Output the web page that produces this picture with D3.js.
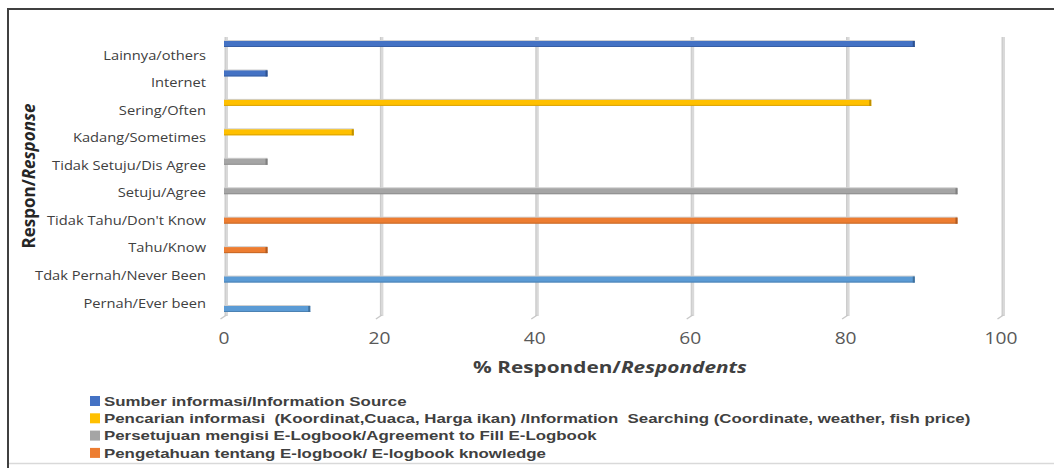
<!DOCTYPE html>
<html>
<head>
<meta charset="utf-8">
<script src="https://cdn.jsdelivr.net/npm/d3@7"></script>
<style>
  body { margin: 0; background: #fff; }
  svg { display: block; font-family: "Open Sans", sans-serif; }
</style>
</head>
<body>
<svg id="chart" width="1054" height="468"></svg>
<script>
// categories from top to bottom
const categories = [
  "Lainnya/others", "Internet", "Sering/Often", "Kadang/Sometimes",
  "Tidak Setuju/Dis Agree", "Setuju/Agree", "Tidak Tahu/Don't Know",
  "Tahu/Know", "Tdak Pernah/Never Been", "Pernah/Ever been"
];
const values = [88.9, 5.6, 83.3, 16.7, 5.6, 94.4, 94.4, 5.6, 88.9, 11.1];
const groups = ["src", "src", "search", "search", "agree", "agree", "know", "know", "ever", "ever"];
const ticks = [0, 20, 40, 60, 80, 100];

const legendLabels = [
  "Sumber informasi/Information Source",
  "Pencarian informasi  (Koordinat,Cuaca, Harga ikan) /Information  Searching (Coordinate, weather, fish price)",
  "Persetujuan mengisi E-Logbook/Agreement to Fill E-Logbook",
  "Pengetahuan tentang E-logbook/ E-logbook knowledge"
];
const legendGroups = ["src", "search", "agree", "know"];

const fill = { src: "#4472c4", search: "#ffc000", agree: "#a5a5a5", know: "#ed7d31", ever: "#5b9bd5" };
const edge = { src: "#2f528f", search: "#bf9000", agree: "#7f7f7f", know: "#ae5a21", ever: "#41719c" };

const svg = d3.select("#chart");

// the source picture is stretched sideways, so texts get a horizontal scale
function stretch(sel, target) {
  const w = sel.node().getComputedTextLength();
  return target / w;
}

// frame
svg.append("line").attr("x1", 7).attr("x2", 1054).attr("y1", 9).attr("y2", 9)
  .attr("stroke", "#404040").attr("stroke-width", 2);
svg.append("line").attr("x1", 8).attr("x2", 8).attr("y1", 8).attr("y2", 468)
  .attr("stroke", "#404040").attr("stroke-width", 2);
svg.append("line").attr("x1", 9).attr("x2", 1054).attr("y1", 463.5).attr("y2", 463.5)
  .attr("stroke", "#d9d9d9").attr("stroke-width", 1.5);

const x = d3.scaleLinear().domain([0, 100]).range([224, 1001]);
const yBar = d3.scalePoint().domain(categories).range([44, 309]);
const yLab = d3.scalePoint().domain(categories).range([55, 303]);

// 3D-ish gridlines
const grid = svg.append("g");
ticks.forEach(t => {
  const gx = x(t) + 2.5;
  grid.append("rect").attr("x", gx - 1.5).attr("y", 37).attr("width", 3).attr("height", 279)
    .attr("fill", "#d9d9d9");
  grid.append("line").attr("x1", gx - 1.5).attr("x2", gx - 1.5).attr("y1", 37).attr("y2", 316)
    .attr("stroke", "#bfbfbf").attr("stroke-width", 0.8);
  grid.append("line").attr("x1", gx).attr("x2", gx - 6).attr("y1", 315).attr("y2", 319)
    .attr("stroke", "#c8c8c8").attr("stroke-width", 1.5);
});

// bars
const bars = svg.append("g");
categories.forEach((c, i) => {
  const g = groups[i];
  const by = yBar(c) - 3;
  const w = x(values[i]) - x(0);
  bars.append("rect").attr("x", x(0)).attr("y", by - 1).attr("width", w).attr("height", 1.5)
    .attr("fill", "#d0d0d0");
  bars.append("rect").attr("x", x(0)).attr("y", by).attr("width", w).attr("height", 6)
    .attr("fill", fill[g]);
  bars.append("rect").attr("x", x(0)).attr("y", by + 5).attr("width", w).attr("height", 1)
    .attr("fill", edge[g]).attr("opacity", 0.6);
  bars.append("rect").attr("x", x(values[i]) - 2).attr("y", by).attr("width", 2).attr("height", 6)
    .attr("fill", edge[g]);
});

// category labels
const catG = svg.append("g");
const catTexts = catG.selectAll("text").data(categories).join("text")
  .attr("x", 0).attr("y", d => yLab(d)).attr("dy", "0.35em")
  .attr("text-anchor", "end").attr("font-size", 13).attr("fill", "#404040")
  .text(d => d);
const catK = stretch(catTexts.filter(d => d === "Tidak Tahu/Don't Know"), 159);
catG.attr("transform", `translate(206,0) scale(${catK},1)`);

// x ticks
svg.append("g").selectAll("text").data(ticks).join("text")
  .attr("transform", d => `translate(${x(d)},338) scale(1.2,1)`).attr("dy", "0.35em")
  .attr("text-anchor", "middle").attr("font-size", 16).attr("fill", "#595959")
  .text(d => d);

// axis titles
const xt = svg.append("text").attr("x", 0).attr("y", 0).attr("dy", "0.35em")
  .attr("text-anchor", "middle").attr("font-size", 16.5).attr("font-weight", "bold").attr("fill", "#404040");
xt.append("tspan").text("% Responden/");
xt.append("tspan").attr("font-style", "italic").text("Respondents");
xt.attr("transform", `translate(610,367) scale(${stretch(xt, 274)},1)`);

const yt = svg.append("text").attr("transform", "translate(29,176) rotate(-90)").attr("dy", "0.35em")
  .attr("text-anchor", "middle").attr("font-size", 17).attr("font-weight", "bold").attr("fill", "#262626");
yt.append("tspan").text("Respon/");
yt.append("tspan").attr("font-style", "italic").text("Response");

// legend
const lg = svg.append("g");
const legTexts = [];
legendLabels.forEach((l, i) => {
  const ly = 401 + i * 17.3;
  lg.append("rect").attr("x", 90).attr("y", ly - 5).attr("width", 10).attr("height", 10)
    .attr("fill", fill[legendGroups[i]]);
  legTexts.push(lg.append("text").attr("x", 0).attr("y", ly).attr("dy", "0.35em")
    .attr("font-family", "'Liberation Sans', sans-serif")
    .style("white-space", "pre")
    .attr("font-size", 13.5).attr("font-weight", "bold").attr("fill", "#404040")
    .text(l));
});
const legK = stretch(legTexts[1], 867);
legTexts.forEach(t => t.attr("transform", `translate(104,0) scale(${legK},1)`));
</script>
</body>
</html>
